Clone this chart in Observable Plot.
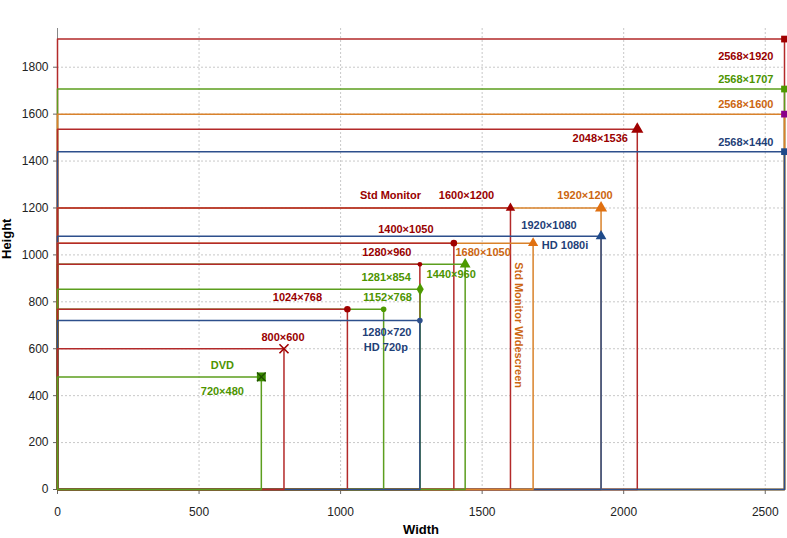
<!DOCTYPE html>
<html>
<head>
<meta charset="utf-8">
<script src="https://cdn.jsdelivr.net/npm/d3@7"></script>
<script src="https://cdn.jsdelivr.net/npm/@observablehq/plot@0.6"></script>
<style>
  html, body { margin: 0; padding: 0; background: #fff; }
  #chart svg { display: block; }
</style>
</head>
<body>
<div id="chart"></div>
<script>
// ---- Data ----
const names   = ["2568×1920","2568×1707","2568×1600","2048×1536","2568×1440","1920×1200","1600×1200","1920×1080","1680×1050","1400×1050","1440×960","1280×960","1281×854","1152×768","1024×768","1280×720","800×600","720×480"];
const widths  = [2568, 2568, 2568, 2048, 2568, 1920, 1600, 1920, 1680, 1400, 1440, 1280, 1281, 1152, 1024, 1280, 800, 720];
const heights = [1920, 1707, 1600, 1536, 1440, 1200, 1200, 1080, 1050, 1050, 960, 960, 854, 768, 768, 720, 600, 480];
const aspects = ["4:3","3:2","16:10","4:3","16:9","16:10","4:3","16:9","16:10","4:3","3:2","4:3","3:2","3:2","4:3","16:9","4:3","3:2"];

// extra annotation labels (attached to a resolution)
const noteTexts = ["Std Monitor", "HD 1080i", "Std Monitor Widescreen", "HD 720p", "DVD"];
const noteOf    = ["1600×1200", "1920×1080", "1680×1050", "1280×720", "720×480"];

const xTicks = [0, 500, 1000, 1500, 2000, 2500];
const yTicks = [0, 200, 400, 600, 800, 1000, 1200, 1400, 1600, 1800];

// ---- Styles ----
const lineColor = {"4:3": "#b32a2a", "3:2": "#5c9e1e", "16:10": "#d9822b", "16:9": "#2d4f8c"};
const textColor = {"4:3": "#990000", "3:2": "#4d9400", "16:10": "#cc6610", "16:9": "#1f3f78"};
const markerStyle = {
  "2568×1920": {symbol: "square", r: 3.8, fill: "#a00000"},
  "2568×1707": {symbol: "square", r: 3.8, fill: "#4d9a00"},
  "2568×1600": {symbol: "square", r: 3.8, fill: "#8a008a"},
  "2568×1440": {symbol: "square", r: 3.8, fill: "#1f4a8a"},
  "2048×1536": {symbol: "triangle", r: 4.5, fill: "#a00000"},
  "1920×1200": {symbol: "triangle", r: 4.5, fill: "#e07010"},
  "1600×1200": {symbol: "triangle", r: 3.5, fill: "#a00000"},
  "1920×1080": {symbol: "triangle", r: 4, fill: "#1f4a8a"},
  "1680×1050": {symbol: "triangle", r: 3.8, fill: "#e07010"},
  "1400×1050": {symbol: "circle", r: 3.3, fill: "#a00000"},
  "1440×960":  {symbol: "triangle", r: 4, fill: "#4d9a00"},
  "1280×960":  {symbol: "circle", r: 2.4, fill: "#a00000"},
  "1281×854":  {symbol: "diamond", r: 3.8, fill: "#4d9a00"},
  "1152×768":  {symbol: "circle", r: 2.8, fill: "#4d9a00"},
  "1024×768":  {symbol: "circle", r: 3.3, fill: "#a00000"},
  "1280×720":  {symbol: "circle", r: 2.8, fill: "#2d4f8c"},
  "800×600":   {symbol: "times", r: 4.2, fill: "#a00000"},
  "720×480":   {symbol: "square", r: 5, fill: "#3a8a00"}
};
// label offsets (pixels) relative to each resolution's corner point
const labelPos = {
  "2568×1920": {dx: -11, dy: 17, anchor: "end"},
  "2568×1707": {dx: -11, dy: -10, anchor: "end"},
  "2568×1600": {dx: -11, dy: -10, anchor: "end"},
  "2568×1440": {dx: -11, dy: -9, anchor: "end"},
  "2048×1536": {dx: -37, dy: 9, anchor: "middle"},
  "1920×1200": {dx: -16, dy: -13, anchor: "middle"},
  "1600×1200": {dx: -44, dy: -13, anchor: "middle"},
  "1920×1080": {dx: -52, dy: -11, anchor: "middle"},
  "1680×1050": {dx: -50, dy: 9, anchor: "middle"},
  "1400×1050": {dx: -48, dy: -14, anchor: "middle"},
  "1440×960":  {dx: -14, dy: 10, anchor: "middle"},
  "1280×960":  {dx: -33, dy: -12, anchor: "middle"},
  "1281×854":  {dx: -34, dy: -12, anchor: "middle"},
  "1152×768":  {dx: 4, dy: -12, anchor: "middle"},
  "1024×768":  {dx: -50, dy: -12, anchor: "middle"},
  "1280×720":  {dx: -33, dy: 12, anchor: "middle"},
  "800×600":   {dx: -1, dy: -11, anchor: "middle"},
  "720×480":   {dx: -39, dy: 15, anchor: "middle"}
};
const notePos = {
  "Std Monitor": {dx: -120, dy: -13, anchor: "middle", rotate: 0},
  "HD 1080i": {dx: -36, dy: 9, anchor: "middle", rotate: 0},
  "Std Monitor Widescreen": {dx: -15, dy: 19, anchor: "start", rotate: 90},
  "HD 720p": {dx: -34, dy: 27, anchor: "middle", rotate: 0},
  "DVD": {dx: -39, dy: -11, anchor: "middle", rotate: 0}
};

// ---- Tables ----
const res = names.map((n, i) => ({name: n, w: widths[i], h: heights[i], aspect: aspects[i]}));
const byName = Object.fromEntries(res.map(d => [d.name, d]));
const rects = res.flatMap(d => [
  {name: d.name, aspect: d.aspect, x: 0, y: 0},
  {name: d.name, aspect: d.aspect, x: 0, y: d.h},
  {name: d.name, aspect: d.aspect, x: d.w, y: d.h},
  {name: d.name, aspect: d.aspect, x: d.w, y: 0},
  {name: d.name, aspect: d.aspect, x: 0, y: 0}
]);
const notes = noteTexts.map((t, i) => ({text: t, ...byName[noteOf[i]]}));

const font = "'Liberation Sans', Arial, sans-serif";
const plain = d => String(d);

const marks = [
  Plot.gridX(xTicks.filter(v => v > 0), {stroke: "#c8c8c8", strokeOpacity: 1, strokeDasharray: "2,2"}),
  Plot.gridY(yTicks.filter(v => v > 0), {stroke: "#c8c8c8", strokeOpacity: 1, strokeDasharray: "2,2"}),
  Plot.axisX({ticks: xTicks, tickFormat: plain, tickSize: 5, tickPadding: 13, fontSize: 12, label: null, stroke: "#666", color: "#222", fontFamily: font}),
  Plot.axisY({ticks: yTicks, tickFormat: plain, tickSize: 4, tickPadding: 5, fontSize: 12, label: null, stroke: "#666", color: "#222", fontFamily: font}),
  Plot.ruleX([0], {stroke: "#888"}),
  Plot.ruleY([0], {stroke: "#888"}),
  // rectangles (largest first so smaller ones sit on top)
  Plot.line(rects, {x: "x", y: "y", z: "name", stroke: d => lineColor[d.aspect], strokeWidth: 1.5, curve: "linear"}),
  // markers
  ...res.map(d => {
    const m = markerStyle[d.name];
    const isStroke = m.symbol === "times";
    return Plot.dot([d], {x: "w", y: "h", symbol: () => m.symbol, r: m.r,
      fill: isStroke ? "none" : m.fill, stroke: isStroke ? m.fill : "none", strokeWidth: isStroke ? 1.6 : 0});
  }),
  Plot.dot([byName["720×480"]], {x: "w", y: "h", symbol: () => "times", r: 4, stroke: "#1f4d00", strokeWidth: 1.3}),
  // resolution labels
  ...res.map(d => {
    const p = labelPos[d.name];
    return Plot.text([d], {x: "w", y: "h", text: "name", dx: p.dx, dy: p.dy, textAnchor: p.anchor,
      fill: textColor[d.aspect], fontSize: 11, fontWeight: "bold", fontFamily: font});
  }),
  // notes
  ...notes.map(d => {
    const p = notePos[d.text];
    return Plot.text([d], {x: "w", y: "h", text: "text", dx: p.dx, dy: p.dy, textAnchor: p.anchor, rotate: p.rotate,
      fill: textColor[d.aspect], fontSize: 11, fontWeight: "bold", fontFamily: font});
  }),
  // axis titles
  Plot.text(["Width"], {frameAnchor: "bottom", dy: 44, text: d => d, fontSize: 13, fontWeight: "bold", fill: "#000", fontFamily: font}),
  Plot.text(["Height"], {frameAnchor: "left", dx: -51, rotate: -90, text: d => d, fontSize: 13, fontWeight: "bold", fill: "#000", fontFamily: font})
];

const chart = Plot.plot({
  width: 787,
  height: 538,
  marginLeft: 57,
  marginRight: 3,
  marginTop: 28,
  marginBottom: 49,
  x: {domain: [0, 2568]},
  y: {domain: [0, 1965]},
  style: {background: "#fff", fontFamily: font, overflow: "visible"},
  marks
});
document.getElementById("chart").appendChild(chart);
</script>
</body>
</html>
